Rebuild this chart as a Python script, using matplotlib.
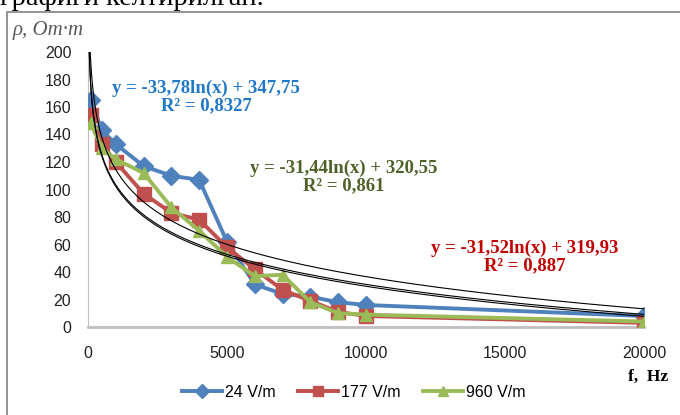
import numpy as np
import matplotlib.pyplot as plt
from matplotlib.patches import Rectangle
from matplotlib.lines import Line2D

# frequencies, Hz
freq = [100, 500, 1000, 2000, 3000, 4000, 5000, 6000, 7000, 8000, 9000, 10000, 20000]

# resistivity, Om*m
rho_24 = [165, 143, 133, 117, 110, 107, 62, 31, 24, 22, 18, 16, 8]
rho_177 = [154, 133, 120, 97, 83, 78, 58, 42, 27, 19, 11, 8, 3]
rho_960 = [148, 130, 122, 112, 87, 70, 51, 37, 38, 18, 10, 9, 4]

labels = ['24 V/m', '177 V/m', '960 V/m']
colors = ['#4F81BD', '#C0504D', '#9BBB59']
markers = ['D', 's', '^']

# log trendlines  y = a*ln(x) + b
trend_a = [-33.78, -31.52, -31.44]
trend_b = [347.75, 319.93, 320.55]
eq_text = ['y = -33,78ln(x) + 347,75\nR² = 0,8327',
           'y = -31,52ln(x) + 319,93\nR² = 0,887',
           'y = -31,44ln(x) + 320,55\nR² = 0,861']
eq_color = ['#1F78C8', '#C00000', '#4F6228']
eq_pos = [(206, 97), (525, 257), (344, 177)]

fig = plt.figure(figsize=(6.8, 4.15), dpi=100)
W, H = 680.0, 415.0

# chart frame and cut-off caption above it
fig.patches.append(Rectangle((7 / W, -0.1), 1.2, 1.1 - 12 / H, transform=fig.transFigure,
                             fill=False, edgecolor='#8c8c8c', linewidth=1.3))
fig.text(264 / W, 1 - 5 / H, 'графиги келтирилган.', ha='right', va='baseline',
         fontsize=20.5, family='Liberation Serif', color='black')

ax = fig.add_axes([88 / W, 1 - 327 / H, 556 / W, 275 / H])

xs = np.linspace(40, 20000, 2000)
for a, b in zip(trend_a, trend_b):
    ax.plot(xs, a * np.log(xs) + b, color='black', lw=0.8, zorder=4)

series = [rho_24, rho_177, rho_960]
for ys, lab, c, m in zip(series, labels, colors, markers):
    ms = 9 if m != 's' else 10
    ax.plot(freq, ys, color=c, lw=2.8, marker=m, ms=ms, mfc=c, mec=c,
            label=lab, zorder=3)

ax.set_xlim(0, 20000)
ax.set_ylim(0, 200)
ax.set_xticks([0, 5000, 10000, 15000, 20000])
ax.set_yticks(range(0, 201, 20))
ax.tick_params(length=0, labelsize=11.5, colors='#222222')
for lab in ax.get_xticklabels() + ax.get_yticklabels():
    lab.set_family('Liberation Sans')
ax.tick_params(axis='x', pad=14)
ax.tick_params(axis='y', pad=12)
for s in ['top', 'right']:
    ax.spines[s].set_visible(False)
ax.spines['left'].set_color('#bfbfbf')
ax.spines['bottom'].set_color('#bfbfbf')
ax.spines['bottom'].set_linewidth(2)

for txt, c, (px, py) in zip(eq_text, eq_color, eq_pos):
    fig.text(px / W, 1 - py / H, txt, ha='center', va='center', color=c,
             fontsize=13.5, fontweight='bold', family='Liberation Serif',
             linespacing=1.05)

fig.text(13 / W, 1 - 31 / H, 'ρ, Om·m', ha='left', va='center', fontsize=15,
         style='italic', family='Liberation Serif', color='#595959')
fig.text(668 / W, 1 - 377 / H, 'f,  Hz', ha='right', va='center', fontsize=12.5,
         fontweight='bold', family='Liberation Serif')

handles = [Line2D([], [], color=c, lw=2.8, marker=m, ms=7, mfc=c, mec=c)
           for c, m in zip(colors, markers)]
fig.legend(handles, labels, loc='center', bbox_to_anchor=(354 / W, 1 - 392 / H),
           ncol=3, frameon=False, prop={'family': 'Liberation Sans', 'size': 11.5},
           handlelength=2.5, handletextpad=0.2, columnspacing=1.4)

fig.savefig('out.png', dpi=100)
